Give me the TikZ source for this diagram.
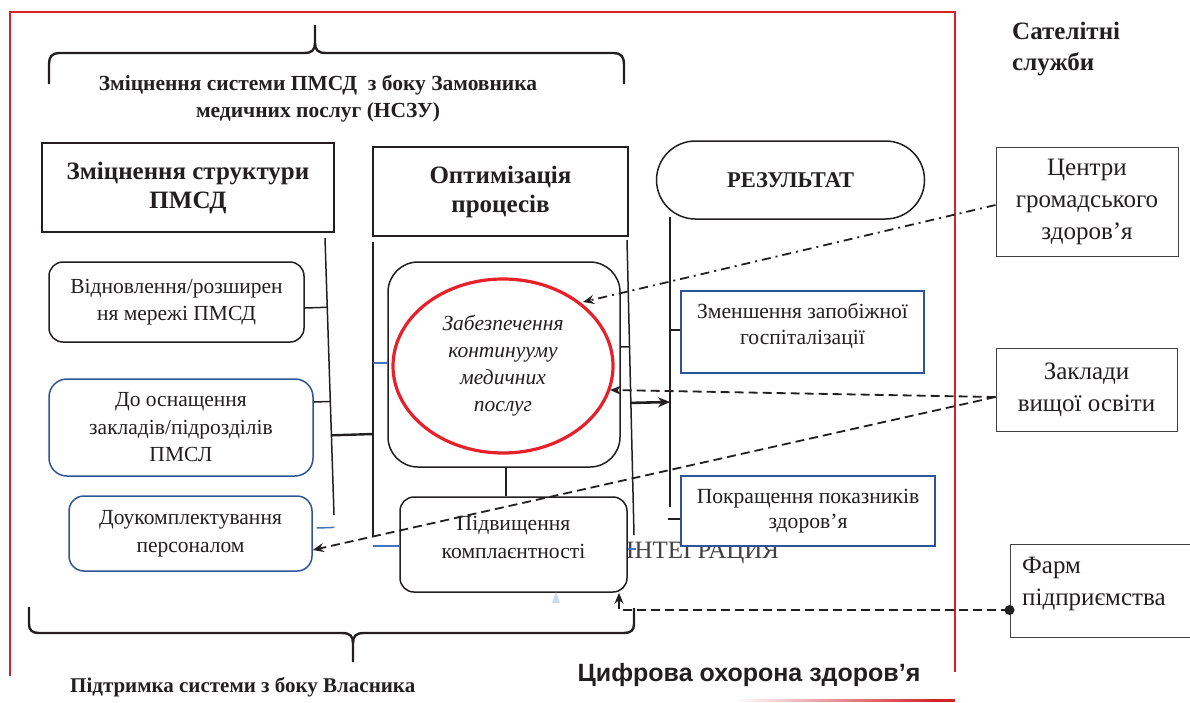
\documentclass[tikz,border=0pt]{standalone}
\usepackage{fontspec}
\setmainfont{Liberation Serif}
\newfontfamily\arialfont{Liberation Sans}
\usetikzlibrary{arrows.meta,calc,shapes.geometric}
\definecolor{ink}{HTML}{231F20}
\definecolor{framered}{HTML}{D2232A}
\definecolor{bblue}{HTML}{2F5496}
\definecolor{lblue}{HTML}{4472C4}
\definecolor{ellred}{HTML}{E8202A}
\definecolor{faintblue}{HTML}{C9D8EF}
\begin{document}
\begin{tikzpicture}[x=1pt,y=-1pt,
  ln/.style={draw=ink,line width=1.5pt},
  bln/.style={draw=lblue,line width=1.5pt},
  hdr/.style={draw=ink,line width=1.5pt,fill=white,align=center,inner sep=2pt,
    font=\bfseries\fontsize{25}{29}\selectfont,text=ink},
  rbox/.style={draw=ink,line width=1.5pt,fill=white,align=center,inner sep=2pt,
    rounded corners=14pt,font=\fontsize{21.5}{27.5}\selectfont,text=ink},
  bbox/.style={rbox,draw=bblue},
  sbox/.style={draw=bblue,line width=2.4pt,fill=white,align=center,inner sep=2pt},
  stxt/.style={align=center,inner sep=0pt,font=\fontsize{21.6}{25.5}\selectfont,text=ink},
  sat/.style={draw=ink!85,line width=1pt,fill=white,align=center,inner sep=2pt,
    font=\fontsize{25}{32}\selectfont,text=ink},
  bracel/.style={draw=ink,line width=2.4pt},
  btxt/.style={align=center,inner sep=0pt,font=\bfseries\fontsize{21.5}{27}\selectfont,text=ink},
  dsh/.style={draw=ink,line width=1.8pt,dash pattern=on 9pt off 5pt},
  dshdot/.style={draw=ink,line width=1.8pt,dash pattern=on 9pt off 5pt on 2pt off 5pt},
  tip/.style={-{Stealth[length=11pt,width=9pt]}}
]
\useasboundingbox (0,0) rectangle (1190,702);

% red frame
\draw[draw=framered,line width=2pt] (10,676) -- (10,12) -- (955,12) -- (955,672);
\shade[left color=white,right color=framered] (735,699) rectangle (935,701.5);
\fill[framered] (935,699) rectangle (955,701.5);

% top brace
\draw[bracel] (49,84) -- (49,64) .. controls (49,57) and (52,53) .. (59,53) -- (304,53)
  .. controls (312,53) and (315,50) .. (315,43) -- (315,25);
\draw[bracel] (315,43) .. controls (315,50) and (318,53) .. (326,53) -- (614,53)
  .. controls (621,53) and (624,57) .. (624,64) -- (624,84);
\node[btxt] (topbr) at (318,99) {Зміцнення системи ПМСД\ \ з боку Замовника\\медичних послуг (НСЗУ)};

% bottom brace
\draw[bracel] (29,607) -- (29,624) .. controls (29,630) and (32,633) .. (39,633) -- (342,633)
  .. controls (350,633) and (353,636) .. (353,643) -- (353,662);
\draw[bracel] (353,643) .. controls (353,636) and (356,633) .. (364,633) -- (624,633)
  .. controls (631,633) and (634,630) .. (634,624) -- (634,608);
\node[btxt,anchor=west,font=\bfseries\fontsize{21}{24}\selectfont] (botbr) at (70,687) {Підтримка системи з боку Власника};

% satellite title
\node[anchor=north west,align=left,inner sep=0pt,text=ink,
  font=\bfseries\fontsize{25}{31}\selectfont] (sattl) at (1012,22) {Сателітні\\служби};

% headers
\node[hdr,minimum width=292pt,minimum height=89pt] (hL) at (188,187.5) {Зміцнення структури\\ПМСД};
\node[hdr,minimum width=255pt,minimum height=89pt] (hM) at (500.5,191.5) {Оптимізація\\процесів};
\node[hdr,rounded corners=39pt,minimum width=268pt,minimum height=78pt,
  font=\bfseries\fontsize{22.5}{26}\selectfont] (res) at (790.5,180) {РЕЗУЛЬТАТ};

% left column
\node[rbox,minimum width=255pt,minimum height=80pt] (vid) at (176.5,302) {Відновлення/розширен\\ня мережі ПМСД};
\node[bbox,rounded corners=18pt,minimum width=264pt,minimum height=97pt] (osn) at (181,427.5) {До оснащення\\закладів/підрозділів\\ПМСЛ};
\node[bbox,rounded corners=15pt,minimum width=243pt,minimum height=75pt] (dou) at (190.5,533.5) {Доукомплектування\\персоналом};

% middle
\node[rbox,rounded corners=30pt,minimum width=232pt,minimum height=205pt] (big) at (504,364.5) {};
\node[ellipse,draw=ellred,line width=3.2pt,minimum width=220pt,minimum height=174pt,
  align=center,inner sep=0pt,font=\itshape\fontsize{21.5}{27}\selectfont,text=ink] (ell) at (503,366)
  {Забезпечення\\континууму\\медичних\\послуг};

% integration text (partly hidden)
\node[anchor=base west,inner sep=0pt,text=ink!85,font=\fontsize{25}{28}\selectfont] (integ) at (626,558) {ІНТЕГРАЦИЯ};

\node[rbox,minimum width=227pt,minimum height=95pt] (pid) at (513.5,544.5) {};
\node[align=center,inner sep=0pt,text=ink,font=\fontsize{21.6}{28}\selectfont] (pidt) at (513.5,537) {Підвищення\\комплаєнтності};

% right results
\node[sbox,minimum width=243pt,minimum height=82pt] (zmen) at (802.5,332) {};
\node[stxt] (zment) at (802.5,326) {Зменшення запобіжної\\госпіталізації};
\node[sbox,minimum width=254pt,minimum height=70pt] (pok) at (808,511) {};
\node[stxt] (pokt) at (808,511) {Покращення показників\\здоров’я};

% satellites
\node[sat,minimum width=182pt,minimum height=109pt] (cen) at (1087,201.5) {Центри\\громадського\\здоров’я};
\node[sat,minimum width=181pt,minimum height=83pt] (zak) at (1086.5,389.5) {Заклади\\вищої освіти};
\node[sat,minimum width=190pt,minimum height=93pt] (farm) at (1105,590.5) {};
\node[anchor=north west,align=left,inner sep=0pt,text=ink,font=\fontsize{25}{32}\selectfont] (farmt) at (1022,557) {Фарм\\підприємства};

% column lines
\coordinate (lt) at (325,238); \coordinate (lb) at (334,515);
\coordinate (mt) at (373,242); \coordinate (mb) at (373,536);
\coordinate (rt) at (627,240); \coordinate (rb) at (634,535);
\coordinate (qt) at (670,217); \coordinate (qb) at (670,507);
\draw[ln] (lt) -- (lb);
\draw[ln] (mt) -- (mb);
\draw[ln] (rt) -- (rb);
\draw[ln] (qt) -- (qb);

% left connectors
\coordinate (c1) at (vid.east |- 0,308);
\draw[ln] (c1) -- ($(lt)!(c1)!(lb)$);
\coordinate (c2) at (osn.east |- 0,402);
\draw[ln] (c2) -- ($(lt)!(c2)!(lb)$);
\coordinate (c3) at (mt |- 0,434);
\draw[draw=ink,line width=2.4pt] ($(lt)!(c3)!(lb)$) -- (c3);
\coordinate (c4) at ($(dou.east |- 0,528)+(4,0)$);
\draw[bln] (c4) -- ($(lt)!(c4)!(lb)$);

% middle connectors
\draw[bln] (mt |- 0,363) -- (big.west |- 0,363);
\draw[bln] (mt |- 0,546) -- (pid.west |- 0,546);
\draw[ln] (big.south -| 506,0) -- (pid.north -| 506,0);
\coordinate (c5) at (big.east |- 0,347);
\draw[ln] (c5) -- ($(rt)!(c5)!(rb)$);
\coordinate (c6) at (qt |- 0,402);
\draw[draw=ink,line width=2.6pt,-{Stealth[length=12pt,width=10pt]}] ($(rt)!(c6)!(rb)$) -- (c6);
\draw[bln] (628,549) -- (636,549);

% result connectors
\draw[ln] (qt |- 0,330) -- (zmen.west |- 0,330);
\draw[ln] (668,519) -- (pok.west |- 0,519);

% faint triangle
\fill[faintblue] (552,603) -- (560,603) -- (556,592) -- cycle;

% satellite links
\coordinate (e1) at (583,302);
\coordinate (e2) at (610,390);
\draw[dshdot,tip] (cen.west |- 0,205) -- (e1);
\draw[dsh,tip] (zak.west |- 0,397) -- (e2);
\draw[dsh,tip] (zak.west |- 0,397) -- (dou.east |- 0,550);
\coordinate (fd) at (farm.west |- 0,610);
\draw[dsh,tip] (fd) -- (619,610) -- (pid.south -| 619,0);
\fill[ink] (fd) circle (5pt);

% bottom title
\node[anchor=base,inner sep=0pt,text=ink,font=\arialfont\bfseries\fontsize{25}{28}\selectfont] (digi) at (749,681) {Цифрова охорона здоров’я};
\end{tikzpicture}
\end{document}
